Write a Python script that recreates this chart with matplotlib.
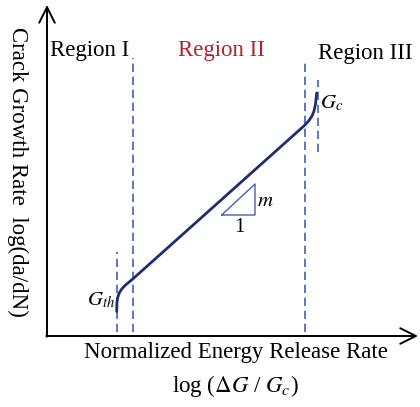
import matplotlib
matplotlib.use("Agg")
import matplotlib.pyplot as plt

plt.rcParams['font.family'] = ['Liberation Serif', 'DejaVu Serif']
plt.rcParams['mathtext.fontset'] = 'stix'

# Curve (log dG/Gc, log da/dN) in arbitrary plot units
curve_x = [69.7, 69.9, 70.6, 72.0, 74.7, 78.5, 82.5, 86.3, 258.0, 262.0, 265.0, 267.0, 268.5, 269.7]
curve_y = [24.5, 33.0, 38.0, 42.5, 47.0, 51.0, 54.3, 57.5, 211.0, 215.5, 220.0, 225.0, 232.0, 243.0]

# Region boundary dashed lines: x, y_bottom, y_top
bound_x = [69.5, 86.0, 258.0, 271.0]
bound_y0 = [4.0, 4.0, 4.0, 184.0]
bound_y1 = [84.0, 278.0, 276.0, 256.0]

# Slope triangle
tri_x = [174.7, 208.0, 208.0, 174.7]
tri_y = [121.0, 121.0, 152.0, 121.0]

region_labels = ["Region I", "Region II", "Region III"]

fig = plt.figure(figsize=(4.2, 4.07), dpi=100)
ax = fig.add_axes([0, 0, 1, 1])
ax.set_xlim(-47, 373)
ax.set_ylim(-71, 336)
ax.axis('off')

# axes arrows
ax.annotate('', xy=(0, 331), xytext=(0, -0.7),
            arrowprops=dict(arrowstyle='->', lw=1.4, color='black', mutation_scale=28,
                            shrinkA=0, shrinkB=0))
ax.annotate('', xy=(371, 0), xytext=(-0.7, 0),
            arrowprops=dict(arrowstyle='->', lw=1.4, color='black', mutation_scale=28,
                            shrinkA=0, shrinkB=0))

dash_col = '#4f6cc0'
for x, y0, y1 in zip(bound_x, bound_y0, bound_y1):
    ax.plot([x, x], [y0, y1], color=dash_col, lw=1.3, dashes=(4.6, 2.6))

ax.plot(curve_x, curve_y, color='#1f2d6e', lw=2.0, solid_capstyle='round',
        solid_joinstyle='round')

ax.plot(tri_x, tri_y, color='#4a5db0', lw=1.0)
ax.text(218, 134, r'$m$', fontsize=15, ha='center', va='center')
ax.text(192, 109, '1', fontsize=15, ha='center', va='center')

fs = 16.5
ax.text(3, 280, region_labels[0], fontsize=fs, ha='left', va='baseline', color='black')
ax.text(174.5, 280, region_labels[1], fontsize=fs, ha='center', va='baseline', color='#b5222c')
ax.text(270.7, 277, region_labels[2], fontsize=fs, ha='left', va='baseline', color='black')

ax.text(273, 228, r'$G_c$', fontsize=15, ha='left', va='baseline')
ax.text(68.5, 31, r'$G_{th}$', fontsize=15, ha='right', va='baseline')

ax.text(188.8, -22, 'Normalized Energy Release Rate', fontsize=fs, ha='center', va='baseline')
ax.text(188, -56, r'log ($\Delta G$ / $G_c$)', fontsize=fs, ha='center', va='baseline')

ax.text(-29, 164, 'Crack Growth Rate  log(da/dN)', fontsize=fs, ha='center', va='center',
        rotation=-90)

fig.savefig('out.png', dpi=100)
